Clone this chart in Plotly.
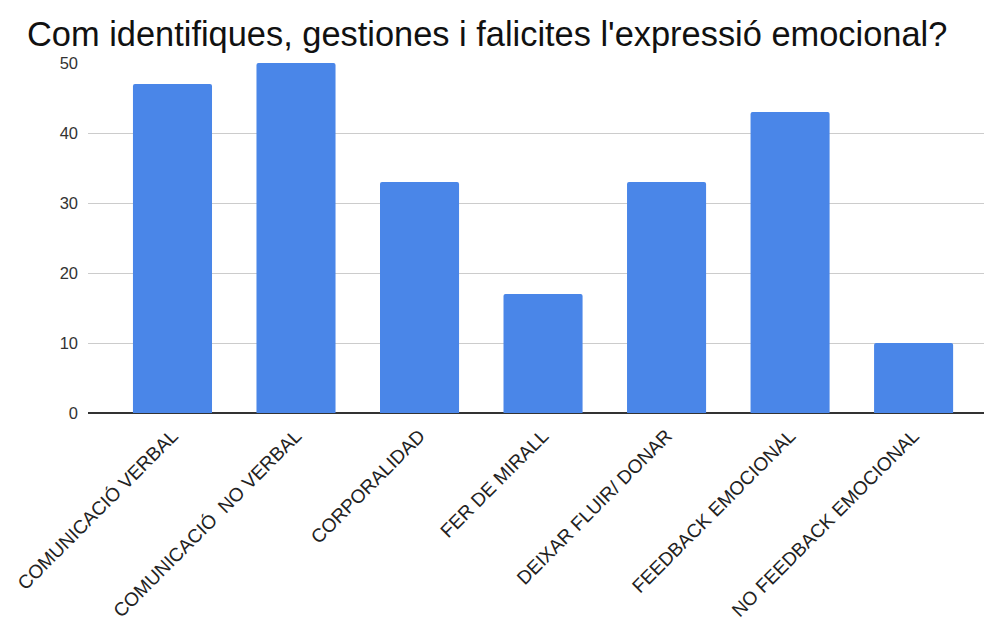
import plotly.graph_objects as go

categories = ["COMUNICACIÓ VERBAL", "COMUNICACIÓ  NO VERBAL", "CORPORALIDAD", "FER DE MIRALL",
              "DEIXAR FLUIR/ DONAR", "FEEDBACK EMOCIONAL", "NO FEEDBACK EMOCIONAL"]
values = [47, 50, 33, 17, 33, 43, 10]
y_ticks = [0, 10, 20, 30, 40, 50]
title_text = "Com identifiques, gestiones i falicites l'expressió emocional?"

fig = go.Figure(go.Bar(
    x=list(range(len(categories))), y=values,
    marker=dict(color="#4a86e8", cornerradius=2, line=dict(width=0)),
    width=0.64,
))

fig.update_layout(
    width=984, height=629,
    margin=dict(l=88, r=0, t=63, b=216),
    paper_bgcolor="white", plot_bgcolor="white",
    font=dict(family="Liberation Sans, Arial, sans-serif", color="#222"),
    title=dict(text=title_text, x=27/984, xref="container", xanchor="left",
               y=1 - 34/629, yref="container", yanchor="middle",
               font=dict(size=34.4, color="#111")),
    showlegend=False,
    bargap=0.36,
)
fig.update_xaxes(
    range=[-0.684, 6.57],
    tickmode="array", tickvals=list(range(len(categories))), ticktext=categories,
    tickangle=-45, tickfont=dict(size=19, color="#222"),
    showgrid=False, showline=False, zeroline=False, ticks="",
    ticklabelstandoff=7,
)
fig.update_yaxes(
    range=[0, 50], tickmode="array", tickvals=y_ticks,
    tickfont=dict(size=16.5, color="#333"),
    showgrid=True, gridcolor="#cccccc", gridwidth=1,
    zeroline=True, zerolinecolor="#333333", zerolinewidth=1.5,
    showline=False, ticks="", ticklabelstandoff=9,
)
fig.write_html("out.html")
